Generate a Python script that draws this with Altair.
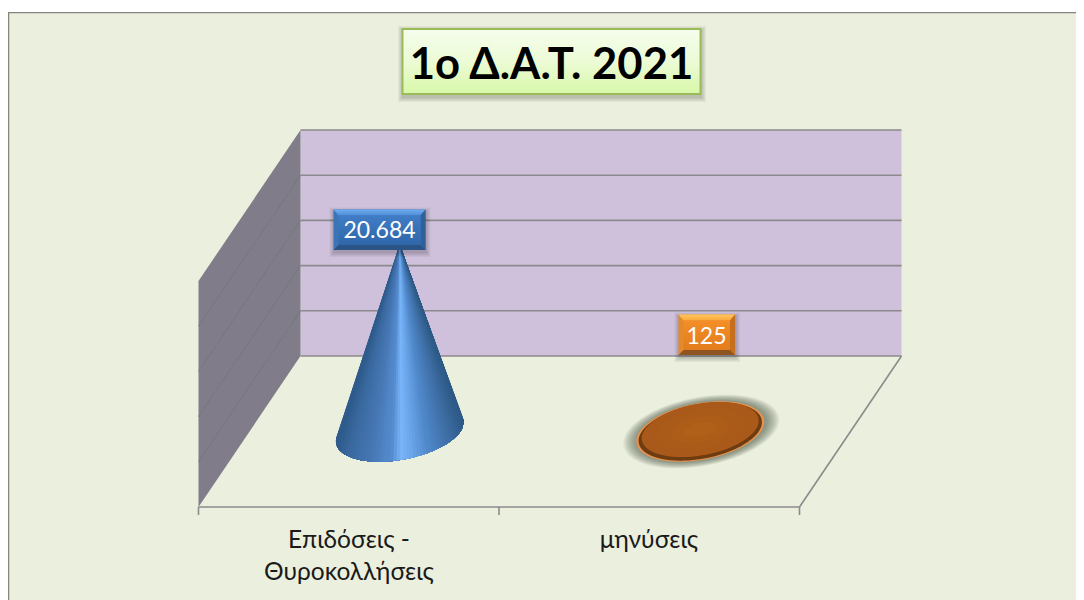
import numpy as np
import pandas as pd
import altair as alt

# ---------- data ----------
CATEGORY_LINES = [["Επιδόσεις -", "Θυροκολλήσεις"], ["μηνύσεις"]]
VALUES = [20684, 125]
VALUE_LABELS = ["20.684", "125"]
VALUE_TICKS = [0, 5000, 10000, 15000, 20000, 25000]
TITLE = "1ο Δ.Α.Τ. 2021"

# ---------- oblique 3D frame, in page pixels ----------
FRONT_LEFT = (198.5, 507.0)
CAT_WIDTH = 300.5
DEPTH_DX, DEPTH_DY = 102.0, -151.0
VALUE_PX = 226.0 / 25000.0
RADIUS_X = 60.6
RADIUS_D = 0.2

FONT = "Lato"
BG = "#ebefdd"
WALL = "#cfc1db"
SIDE = "#807c8a"
LINE = "#8c8a8c"
PAGE_RIGHT = 1076
PAGE_BOTTOM = 600


def project(cat, depth=0.0, value=0.0):
    return (FRONT_LEFT[0] + cat * CAT_WIDTH + depth * DEPTH_DX,
            FRONT_LEFT[1] + depth * DEPTH_DY - value * VALUE_PX)


X = alt.X("x:Q", axis=None, scale=alt.Scale(domain=[8, PAGE_RIGHT], nice=False, zero=False))
Y = alt.Y("y:Q", axis=None, scale=alt.Scale(domain=[PAGE_BOTTOM, 8], nice=False, zero=False))


def convex_df(points):
    p = np.array(points, dtype=float)
    xs = np.unique(p[:, 0])
    tops, bots = [], []
    n = len(p)
    for x in xs:
        ys = []
        for i in range(n):
            a, b = p[i], p[(i + 1) % n]
            lo, hi = min(a[0], b[0]), max(a[0], b[0])
            if lo <= x <= hi:
                if a[0] == b[0]:
                    ys += [a[1], b[1]]
                else:
                    ys.append(a[1] + (b[1] - a[1]) * (x - a[0]) / (b[0] - a[0]))
        tops.append(min(ys))
        bots.append(max(ys))
    return pd.DataFrame({"x": xs, "y": tops, "y2": bots})


def shape(points, fill, opacity=1.0):
    return alt.Chart(convex_df(points)).mark_area(
        color=fill, opacity=opacity, orient="vertical", interpolate="linear"
    ).encode(x=X, y=Y, y2="y2:Q")


def rect(x0, y0, x1, y1, fill, opacity=1.0):
    return alt.Chart(pd.DataFrame({"x": [x0], "x2": [x1], "y": [y0], "y2": [y1]})).mark_rect(
        color=fill, opacity=opacity
    ).encode(x=X, x2="x2:Q", y=Y, y2="y2:Q")


def lines(segments, color, width):
    rows = [dict(x=a[0], y=a[1], s=i, o=0) for i, (a, b) in enumerate(segments)]
    rows += [dict(x=b[0], y=b[1], s=i, o=1) for i, (a, b) in enumerate(segments)]
    return alt.Chart(pd.DataFrame(rows)).mark_line(color=color, strokeWidth=width).encode(
        x=X, y=Y, detail="s:N", order="o:Q"
    )


def vgrad(*stops):
    return alt.Gradient(gradient="linear", x1=0, x2=0, y1=0, y2=1,
                        stops=[alt.GradientStop(color=c, offset=o) for o, c in stops])


def text(x, y, s, size, color, bold=False):
    return alt.Chart(pd.DataFrame({"x": [x], "y": [y], "t": [s]})).mark_text(
        font=FONT, fontSize=size, color=color, fontWeight="bold" if bold else "normal",
        align="center", baseline="middle"
    ).encode(x=X, y=Y, text="t:N")


def ellipse_pts(cx, cy, scale=1.0, n=90):
    t = np.linspace(0, 2 * np.pi, n, endpoint=False)
    x = cx + scale * (RADIUS_X * np.cos(t) + RADIUS_D * DEPTH_DX * np.sin(t))
    y = cy + scale * (RADIUS_D * DEPTH_DY * np.sin(t))
    return list(zip(x, y)), t


def beveled_box(x0, y0, x1, y1, b, bt, top, left, right, bottom, body):
    out = []
    for g in [5, 4, 3, 2, 1]:
        out.append(rect(x0 - g + 1, y0 + 3 - g, x1 + g, y1 + 2 + g, "#000000", 0.045))
    out.append(rect(x0, y0, x1, y1, left))
    out.append(shape([(x0, y0), (x1, y0), (x1 - b, y0 + bt), (x0 + b, y0 + bt)], top))
    out.append(shape([(x1, y0), (x1, y1), (x1 - b, y1 - b), (x1 - b, y0 + bt)], right))
    out.append(shape([(x0, y1), (x1, y1), (x1 - b, y1 - b), (x0 + b, y1 - b)], bottom))
    out.append(rect(x0 + b, y0 + bt, x1 - b, y1 - b, body))
    return out


layers = []

# page and frame
layers.append(rect(8, 12, PAGE_RIGHT, PAGE_BOTTOM, BG))
layers.append(lines([((8.6, 12), (8.6, PAGE_BOTTOM)), ((8, 12.6), (PAGE_RIGHT, 12.6))], "#85857d", 1.3))

# walls
back_bottom = project(0, 1)
back_right = project(2, 1)
layers.append(rect(back_bottom[0], project(0, 1, 25000)[1], back_right[0], back_bottom[1], WALL))
layers.append(shape([project(0, 0), project(0, 0, 25000), project(0, 1, 25000), project(0, 1)], SIDE))

# gridlines, through the value scale
layers.append(lines([(project(0, 0, v), project(0, 1, v)) for v in VALUE_TICKS[1:-1]], "#77767c", 1))
layers.append(lines([(project(0, 1, v), project(2, 1, v)) for v in VALUE_TICKS], LINE, 1.6))

# floor edges and category ticks
layers.append(lines([(project(0), project(2)), (project(2), project(2, 1))], LINE, 1.6))
layers.append(lines([(project(c), (project(c)[0], project(c)[1] + 8)) for c in [0, 1, 2]], LINE, 1.6))

# cone for the first value: fan of shaded sectors, painted left to right
SHADE_POS = [0.0, 0.10, 0.28, 0.44, 0.51, 0.58, 0.72, 0.88, 1.0]
SHADE_COL = ["#2d5a8a", "#3a699f", "#4778b5", "#568dd0", "#79b5fa", "#6ea8ec",
             "#5089cb", "#3f6fa6", "#2d5a86"]
SHADE_RGB = np.array([[int(c[i:i + 2], 16) for i in (1, 3, 5)] for c in SHADE_COL], float)


def shade(f):
    return "#%02x%02x%02x" % tuple(int(round(np.interp(f, SHADE_POS, SHADE_RGB[:, k]))) for k in range(3))


cx, cy = project(0.5, 0.5)
ax, ay = project(0.5, 0.5, VALUES[0])
tt = np.linspace(0, 2 * np.pi, 720, endpoint=False)
ex = cx + RADIUS_X * np.cos(tt) + RADIUS_D * DEPTH_DX * np.sin(tt)
ey = cy + RADIUS_D * DEPTH_DY * np.sin(tt)
i_left, i_right = int(np.argmax(-(ex - ax) / (ey - ay))), int(np.argmax((ex - ax) / (ey - ay)))
lowest = int(np.argmax(ey))
arc_a = [(i_left + k) % 720 for k in range((i_right - i_left) % 720 + 1)]
arc_b = [(i_right + k) % 720 for k in range((i_left - i_right) % 720 + 1)]
arc = arc_a if lowest in arc_a else arc_b
step = max(1, len(arc) // 64)
arc = arc[::step] + [arc[-1]]
pts = sorted([(float(ex[i]), float(ey[i])) for i in arc])
x_min, x_max = pts[0][0], pts[-1][0]
rows = []
for s in range(len(pts) - 1):
    f = ((pts[s][0] + pts[s + 1][0]) / 2 - x_min) / (x_max - x_min)
    sector = convex_df([(ax, ay)] + pts[s:][::-1])
    sector["s"] = s
    sector["c"] = shade(f)
    rows.append(sector)
cone = pd.concat(rows, ignore_index=True)
layers.append(alt.Chart(cone).mark_area(orient="vertical").encode(
    x=X, y=Y, y2="y2:Q", detail="s:N", color=alt.Color("c:N", scale=None)))

# flat disc for the second value
dx, dy = project(1.5, 0.5)
for g in [1.22, 1.20, 1.18, 1.16, 1.14, 1.12, 1.10, 1.08, 1.06, 1.04, 1.02]:
    layers.append(shape(ellipse_pts(dx + 1, dy, g)[0], "#4c574a", 0.07))
layers.append(shape(ellipse_pts(dx, dy, 1.0)[0], "#e8914c"))
layers.append(shape(ellipse_pts(dx, dy, 0.965)[0], "#6d3c10"))
for g, c in [(0.915, "#a9591a"), (0.7, "#ab5b19"), (0.45, "#ae5d19"), (0.25, "#b1601a")]:
    layers.append(shape(ellipse_pts(dx, dy - 2, g)[0], c))

# value labels
layers += beveled_box(333.5, 209.5, 425.5, 250, 5, 6,
                      vgrad((0, "#6fabee"), (1, "#4f8fd8")), "#3c74b6", "#2f6098", "#2b5486",
                      vgrad((0, "#3f7dc6"), (1, "#2f67a9")))
layers.append(text(379.5, 231, VALUE_LABELS[0], 23, "#ffffff"))
layers += beveled_box(678.5, 314.5, 735, 355, 5, 6,
                      vgrad((0, "#ffc85e"), (1, "#fba83c")), "#e58a2c", "#c4701f", "#8f5520",
                      vgrad((0, "#f48e28"), (1, "#e27c1c")))
layers.append(text(706.5, 336.5, VALUE_LABELS[1], 23, "#ffffff"))

# category labels
layers.append(text(349, 541, CATEGORY_LINES[0][0], 24.5, "#1a1a1a"))
layers.append(text(349, 573, CATEGORY_LINES[0][1], 24.5, "#1a1a1a"))
layers.append(text(649, 541, CATEGORY_LINES[1][0], 24.5, "#1a1a1a"))

# title box
for g in [5, 4, 3, 2, 1]:
    layers.append(rect(402 - g + 1, 28 + 3 - g, 701 + g, 95 + 2 + g, "#000000", 0.045))
layers.append(alt.Chart(pd.DataFrame({"x": [402.5], "x2": [700.5], "y": [29], "y2": [94]})).mark_rect(
    color=vgrad((0, "#f5fdec"), (0.5, "#ecfbd6"), (1, "#d8f8a8")), stroke="#9bbb59", strokeWidth=2
).encode(x=X, x2="x2:Q", y=Y, y2="y2:Q"))
layers.append(text(551.5, 65.5, TITLE, 43.6, "#000000", True))

chart = alt.layer(*layers).properties(
    width=PAGE_RIGHT - 8, height=PAGE_BOTTOM - 8, padding=0, background="white",
    autosize=alt.AutoSizeParams(type="none"),
).configure_view(stroke=None)

chart.save("out.html", embed_options={"renderer": "svg", "actions": False})
